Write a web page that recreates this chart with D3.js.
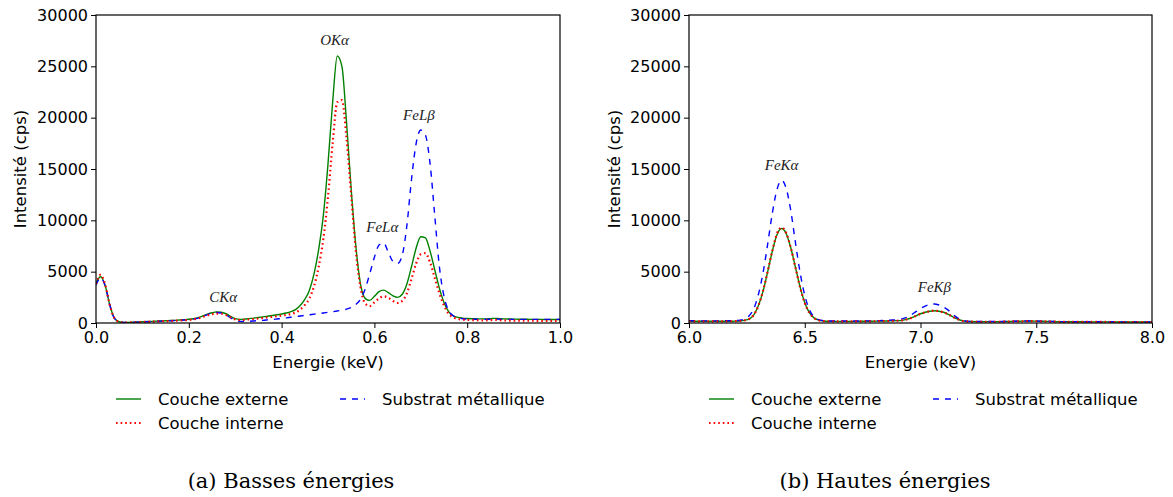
<!DOCTYPE html>
<html>
<head>
<meta charset="utf-8">
<script src="https://cdn.jsdelivr.net/npm/d3@7/dist/d3.min.js"></script>
<style>
  html, body { margin: 0; padding: 0; background: #fff; }
  svg { display: block; }
</style>
</head>
<body>
<svg id="chart" width="1173" height="497" font-family="DejaVu Sans"></svg>
<script>
// ---------------- DATA ----------------
const seriesNames = ["Couche externe", "Couche interne", "Substrat métallique"];

// Low-energy panel (a): energies in keV
const energyLow = [
  0.00,0.01,0.02,0.03,0.04,0.05,0.06,0.07,0.08,0.09,
  0.10,0.11,0.12,0.13,0.14,0.15,0.16,0.17,0.18,0.19,
  0.20,0.21,0.22,0.23,0.24,0.25,0.26,0.27,0.28,0.29,
  0.30,0.31,0.32,0.33,0.34,0.35,0.36,0.37,0.38,0.39,
  0.40,0.41,0.42,0.43,0.44,0.45,0.46,0.47,0.48,0.49,
  0.50,0.51,0.52,0.53,0.54,0.55,0.56,0.57,0.58,0.59,
  0.60,0.61,0.62,0.63,0.64,0.65,0.66,0.67,0.68,0.69,
  0.70,0.71,0.72,0.73,0.74,0.75,0.76,0.77,0.78,0.79,
  0.80,0.81,0.82,0.83,0.84,0.85,0.86,0.87,0.88,0.89,
  0.90,0.91,0.92,0.93,0.94,0.95,0.96,0.97,0.98,0.99,1.00
];
const externeLow = [
  3900,4500,3600,1700,450,120,60,60,80,100,
  120,140,160,180,200,220,240,260,290,320,
  360,420,520,680,860,1000,1080,1050,900,650,
  420,350,380,430,480,540,600,660,730,800,
  880,970,1100,1300,1700,2300,3200,4800,7200,10500,
  15500,21500,26000,25000,19500,13000,7500,3800,2400,2200,
  2600,3050,3200,2950,2650,2500,2800,3800,5500,7300,
  8400,8300,7000,5200,3400,2000,1100,700,550,480,
  440,420,410,400,400,420,450,420,400,390,
  380,370,360,360,350,350,350,340,340,340,340
];
const interneLow = [
  3800,4700,3700,1700,450,110,50,50,60,80,
  100,115,130,150,170,185,200,220,245,270,
  300,360,440,580,740,860,920,900,780,560,
  360,290,310,350,390,440,490,540,600,660,
  720,790,880,1020,1300,1750,2400,3600,5500,8200,
  12300,17500,21500,21700,18000,12500,7000,3500,1900,1650,
  2000,2400,2600,2450,2150,1950,2150,2900,4300,5800,
  6700,6800,5900,4400,2900,1700,900,550,400,330,
  300,280,270,260,260,280,300,270,250,240,
  230,230,220,220,220,210,210,210,200,200,200
];
const substratLow = [
  3700,4400,3600,1700,450,120,60,60,75,90,
  110,125,140,160,180,200,220,240,265,295,
  330,390,480,640,820,960,1020,980,800,500,
  260,160,150,170,200,230,260,300,340,390,
  440,500,560,620,680,740,800,860,920,980,
  1040,1100,1170,1250,1350,1500,1800,2300,3300,4800,
  6400,7600,7800,6900,6000,5800,6600,9500,14000,17500,
  18800,18300,15500,10500,5500,2600,1200,700,500,420,
  390,370,360,350,350,370,390,370,350,350,
  350,350,350,350,350,350,350,350,350,350,350
];

// High-energy panel (b)
const energyHigh = [
  6.00,6.02,6.04,6.06,6.08,6.10,6.12,6.14,6.16,6.18,
  6.20,6.22,6.24,6.26,6.28,6.30,6.32,6.34,6.36,6.38,
  6.40,6.42,6.44,6.46,6.48,6.50,6.52,6.54,6.56,6.58,
  6.60,6.62,6.64,6.66,6.68,6.70,6.72,6.74,6.76,6.78,
  6.80,6.82,6.84,6.86,6.88,6.90,6.92,6.94,6.96,6.98,
  7.00,7.02,7.04,7.06,7.08,7.10,7.12,7.14,7.16,7.18,
  7.20,7.22,7.24,7.26,7.28,7.30,7.32,7.34,7.36,7.38,
  7.40,7.42,7.44,7.46,7.48,7.50,7.52,7.54,7.56,7.58,
  7.60,7.62,7.64,7.66,7.68,7.70,7.72,7.74,7.76,7.78,
  7.80,7.82,7.84,7.86,7.88,7.90,7.92,7.94,7.96,7.98,8.00
];
const externeHigh = [
  180,175,170,170,170,170,170,170,170,175,
  180,200,260,400,800,1700,3100,5000,7000,8600,
  9200,8700,7300,5400,3500,2000,1000,500,280,200,
  170,160,160,160,160,160,160,165,170,175,
  180,185,190,200,210,230,260,350,500,700,
  900,1050,1150,1200,1150,1050,850,600,380,230,
  160,140,130,130,130,130,130,130,140,150,
  160,170,180,190,190,180,170,160,150,140,
  130,125,120,120,115,115,110,110,110,110,
  110,105,105,100,100,100,100,95,95,95,95
];
const interneHigh = [
  170,165,160,160,160,160,160,160,165,170,
  175,195,250,390,790,1700,3150,5050,7050,8700,
  9300,8750,7300,5400,3450,1950,980,480,270,190,
  160,150,150,150,150,150,150,155,160,165,
  170,175,180,190,200,220,250,340,490,690,
  890,1040,1150,1200,1150,1040,840,590,370,220,
  150,130,120,120,120,120,120,120,130,140,
  150,160,170,180,180,170,160,150,140,130,
  120,115,110,110,105,105,100,100,100,100,
  100,95,95,90,90,90,90,85,85,85,85
];
const substratHigh = [
  220,215,210,210,210,210,210,210,215,220,
  230,270,400,700,1400,2800,4900,7700,10700,13000,
  13900,13100,10900,7800,4900,2700,1300,600,320,230,
  200,190,190,190,190,190,190,195,200,210,
  220,230,240,260,290,330,400,550,800,1100,
  1400,1650,1800,1850,1750,1550,1250,850,500,280,
  180,150,140,140,140,140,140,140,150,160,
  170,180,190,200,200,190,180,170,160,150,
  140,135,130,130,125,125,120,120,120,120,
  120,115,115,110,110,110,110,105,105,105,105
];

// Axis ticks
const yTicks = [0, 5000, 10000, 15000, 20000, 25000, 30000];
const xTicksLow = [0.0, 0.2, 0.4, 0.6, 0.8, 1.0];
const xTicksHigh = [6.0, 6.5, 7.0, 7.5, 8.0];

// Peak annotations (label, energy keV, intensity cps)
const annotLowLabels = ["CKα", "OKα", "FeLα", "FeLβ"];
const annotLowEnergy = [0.274, 0.514, 0.617, 0.696];
const annotLowValue = [2050, 27100, 8850, 19750];
const annotHighLabels = ["FeKα", "FeKβ"];
const annotHighEnergy = [6.40, 7.06];
const annotHighValue = [14900, 3000];

const captions = ["(a) Basses énergies", "(b) Hautes énergies"];

// ---------------- DRAW ----------------
const svg = d3.select("#chart");
svg.append("rect").attr("width", 1173).attr("height", 497).attr("fill", "#fff");

const styles = [
  { color: "#008000", width: 1.4, dash: null },
  { color: "#ff0000", width: 2.2, dash: "1.6,3" },
  { color: "#0000ff", width: 1.4, dash: "6,6" }
];

function drawPanel(opt) {
  const g = svg.append("g");
  const x = d3.scaleLinear().domain(opt.xDomain).range([opt.left, opt.right]);
  const y = d3.scaleLinear().domain([0, 30000]).range([opt.bottom, opt.top]);

  const clipId = "clip" + opt.id;
  svg.append("defs").append("clipPath").attr("id", clipId)
    .append("rect").attr("x", opt.left).attr("y", opt.top)
    .attr("width", opt.right - opt.left).attr("height", opt.bottom - opt.top);

  const line = d3.line().x(d => x(d[0])).y(d => y(d[1])).curve(d3.curveMonotoneX);
  const lg = g.append("g").attr("clip-path", `url(#${clipId})`);
  [0, 2, 1].forEach(i => {
    const pts = opt.energy.map((e, k) => [e, opt.series[i][k]]);
    lg.append("path").datum(pts)
      .attr("d", line).attr("fill", "none")
      .attr("stroke", styles[i].color).attr("stroke-width", styles[i].width)
      .attr("stroke-dasharray", styles[i].dash)
      .attr("stroke-linejoin", "round");
  });

  const yAxis = d3.axisLeft(y).tickValues(yTicks).tickFormat(d3.format("d"))
    .tickSize(5).tickSizeOuter(0).tickPadding(3);
  const xAxis = d3.axisBottom(x).tickValues(opt.xTicks).tickFormat(d3.format(".1f"))
    .tickSize(5).tickSizeOuter(0).tickPadding(4);
  const ya = g.append("g").attr("transform", `translate(${opt.left},0)`).call(yAxis);
  const xa = g.append("g").attr("transform", `translate(0,${opt.bottom})`).call(xAxis);
  [ya, xa].forEach(a => {
    a.attr("font-family", null).attr("font-size", null);
    a.select(".domain").remove();
    a.selectAll("text").style("font-family", "DejaVu Sans").style("font-size", "16px").attr("fill", "#000");
    a.selectAll("line").attr("stroke", "#000");
  });

  g.append("rect").attr("x", opt.left).attr("y", opt.top)
    .attr("width", opt.right - opt.left).attr("height", opt.bottom - opt.top)
    .attr("fill", "none").attr("stroke", "#000").attr("stroke-width", 1.2);

  g.append("text").attr("x", (opt.left + opt.right) / 2).attr("y", opt.bottom + 45)
    .attr("text-anchor", "middle").style("font-family", "DejaVu Sans").style("font-size", "16.5px")
    .text("Energie (keV)");
  g.append("text")
    .attr("transform", `translate(${opt.ylabelX},${(opt.top + opt.bottom) / 2}) rotate(-90)`)
    .attr("text-anchor", "middle").style("font-family", "DejaVu Sans").style("font-size", "16.5px")
    .text("Intensité (cps)");

  opt.annLabels.forEach((lab, i) => {
    g.append("text").attr("x", x(opt.annE[i])).attr("y", y(opt.annV[i]))
      .attr("text-anchor", "middle")
      .style("font-family", "'Liberation Serif', serif").style("font-style", "italic")
      .style("font-size", "15px").attr("fill", "#222").text(lab);
  });

  const legendPos = [
    { dx: 0, row: 0 }, { dx: 0, row: 1 }, { dx: 224, row: 0 }
  ];
  seriesNames.forEach((name, i) => {
    const lx = opt.left + 20 + legendPos[i].dx;
    const ly = 399 + legendPos[i].row * 24;
    g.append("line").attr("x1", lx).attr("x2", lx + 25).attr("y1", ly).attr("y2", ly)
      .attr("stroke", styles[i].color).attr("stroke-width", styles[i].width)
      .attr("stroke-dasharray", styles[i].dash);
    g.append("text").attr("x", lx + 42).attr("y", ly + 6)
      .style("font-family", "DejaVu Sans").style("font-size", "16.5px").text(name);
  });

  g.append("text").attr("x", opt.capX).attr("y", 488).attr("text-anchor", "middle")
    .style("font-family", "'DejaVu Serif', serif").style("font-size", "21px").text(opt.caption);
}

drawPanel({
  id: "a", left: 96, right: 560, top: 15, bottom: 323,
  xDomain: [0, 1], xTicks: xTicksLow, energy: energyLow,
  series: [externeLow, interneLow, substratLow],
  annLabels: annotLowLabels, annE: annotLowEnergy, annV: annotLowValue,
  ylabelX: 26, capX: 291, caption: captions[0]
});
drawPanel({
  id: "b", left: 689, right: 1152, top: 15, bottom: 323,
  xDomain: [6, 8], xTicks: xTicksHigh, energy: energyHigh,
  series: [externeHigh, interneHigh, substratHigh],
  annLabels: annotHighLabels, annE: annotHighEnergy, annV: annotHighValue,
  ylabelX: 620, capX: 885, caption: captions[1]
});
</script>
</body>
</html>
